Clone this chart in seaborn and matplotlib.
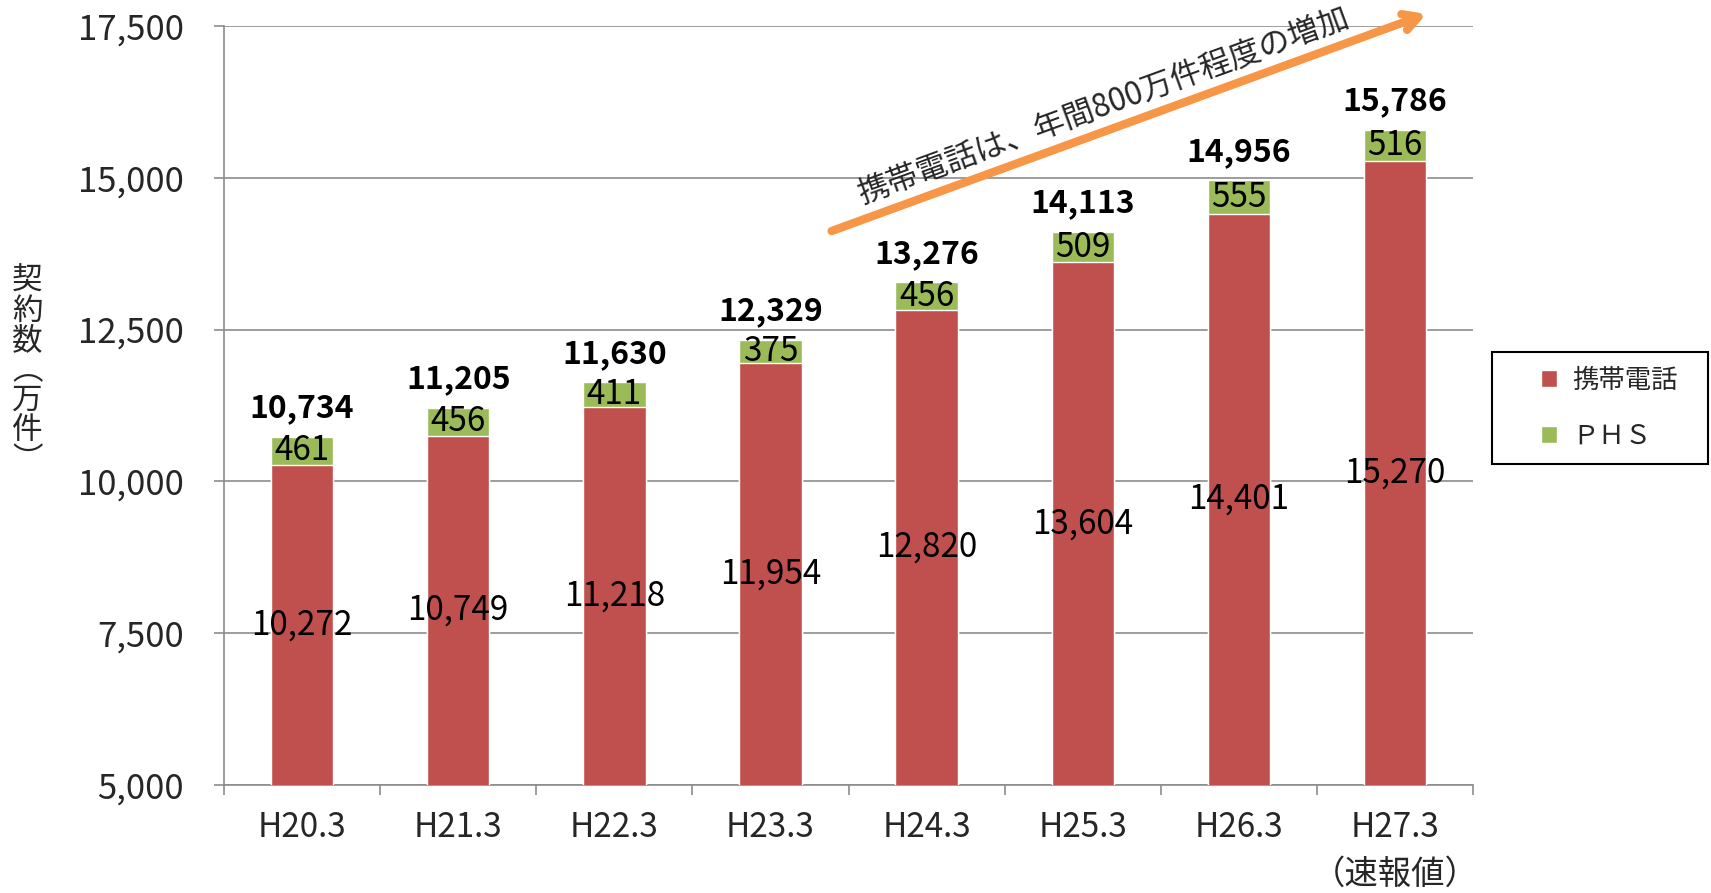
import matplotlib
matplotlib.use('Agg')
import matplotlib.pyplot as plt
from matplotlib.patches import Patch, Rectangle
import seaborn as sns
import pandas as pd

# data
periods = ['H20.3', 'H21.3', 'H22.3', 'H23.3', 'H24.3', 'H25.3', 'H26.3', 'H27.3\n（速報値）']
mobile = [10272, 10749, 11218, 11954, 12820, 13604, 14401, 15270]
phs = [461, 456, 411, 375, 456, 509, 555, 516]
totals = [10734, 11205, 11630, 12329, 13276, 14113, 14956, 15786]

df = pd.DataFrame({'period': periods, 'mobile': mobile, 'phs': phs, 'total': totals})
df['stack'] = df['mobile'] + df['phs']

sns.set_theme(style='white')
plt.rcParams['font.family'] = ['Noto Sans CJK JP', 'DejaVu Sans']

red = '#C0504D'
green = '#9BBB59'
grid_c = '#8C8C8C'

fig = plt.figure(figsize=(17.11, 8.93), dpi=100)
ax = fig.add_axes([0.1309, 0.121, 0.7301, 0.850])

sns.barplot(data=df, x='period', y='stack', color=green, width=0.4, saturation=1, ax=ax, zorder=3)
sns.barplot(data=df, x='period', y='mobile', color=red, width=0.4, saturation=1, ax=ax, zorder=3)

ax.set_ylim(5000, 17500)
ax.set_xlim(-0.5, len(periods) - 0.5)
ax.set_yticks(range(5000, 17501, 2500))
ax.set_yticklabels([f'{v:,}' for v in range(5000, 17501, 2500)])
ax.yaxis.grid(True, color=grid_c, lw=1.2, zorder=0)
ax.set_axisbelow(True)
ax.set_xlabel('')
ax.set_ylabel('')

for s in ['top', 'right']:
    ax.spines[s].set_visible(False)
for s in ['left', 'bottom']:
    ax.spines[s].set_color(grid_c)
    ax.spines[s].set_linewidth(1.2)

ax.tick_params(axis='y', which='major', direction='out', length=7, width=1.2,
               color=grid_c, pad=22, labelsize=25, left=True)
ax.tick_params(axis='x', which='major', length=0, pad=18, labelsize=24)
for t in ax.get_xticklabels():
    t.set_linespacing(1.45)
ax.set_xticks([i + 0.5 for i in range(-1, len(periods))], minor=True)
ax.tick_params(axis='x', which='minor', direction='out', length=7, width=1.2,
               color=grid_c, bottom=True)

for i in range(len(periods)):
    ax.text(i, (5000 + mobile[i]) / 2, f'{mobile[i]:,}', ha='center', va='center',
            fontsize=24, color='black', zorder=5)
    ax.text(i, mobile[i] + phs[i] / 2, f'{phs[i]:,}', ha='center', va='center',
            fontsize=24, color='black', zorder=5)
    ax.annotate(f'{totals[i]:,}', (i, df['stack'][i]), xytext=(0, 9),
                textcoords='offset points', ha='center', va='bottom',
                fontsize=23, fontweight='bold', color='black', zorder=5)

# y label, stacked vertically
fig.text(0.016, 0.585, '契\n約\n数\n︵\n万\n件\n︶', ha='center', va='center',
         fontsize=22, linespacing=0.95)

# trend arrow
ax.annotate('', xy=(1429, 880), xycoords='figure pixels',
            xytext=(829, 661), textcoords='figure pixels',
            arrowprops=dict(arrowstyle='->, head_length=0.9, head_width=0.5',
                            lw=6, color='#F79646'), zorder=6)
fig.text(1104 / 1711, 786 / 893, '携帯電話は、年間800万件程度の増加', rotation=20.05,
         rotation_mode='anchor', ha='center', va='center', fontsize=22.5)

# legend with separate frame box
handles = [Patch(facecolor=red, label='携帯電話'), Patch(facecolor=green, label='ＰＨＳ')]
fig.legend(handles=handles, loc='center left', bbox_to_anchor=(0.9006, 0.543),
           fontsize=19, frameon=False, handlelength=0.6, handleheight=0.6,
           labelspacing=1.1, borderpad=0, handletextpad=0.6, borderaxespad=0)
fig.add_artist(Rectangle((0.872, 0.4804), 0.1262, 0.1254, transform=fig.transFigure,
                         fill=False, edgecolor='black', lw=1.5))

fig.savefig('out.png', dpi=100)
